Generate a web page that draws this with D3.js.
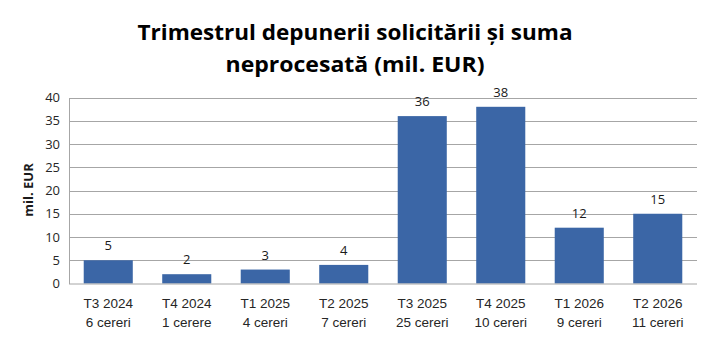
<!DOCTYPE html>
<html><head><meta charset="utf-8">
<script src="https://cdn.jsdelivr.net/npm/d3@7"></script>
<style>
html,body{margin:0;padding:0;background:#fff;}
svg{display:block;font-family:"Open Sans",sans-serif;}
</style></head>
<body><svg id="c" width="710" height="338"></svg>
<script>
const quarters = ["T3 2024","T4 2024","T1 2025","T2 2025","T3 2025","T4 2025","T1 2026","T2 2026"];
const requests = ["6 cereri","1 cerere","4 cereri","7 cereri","25 cereri","10 cereri","9 cereri","11 cereri"];
const values = [5,2,3,4,36,38,12,15];
const yTicks = [0,5,10,15,20,25,30,35,40];
const titleLines = ["Trimestrul depunerii solicitării și suma","neprocesată (mil. EUR)"];
const yTitle = "mil. EUR";

const svg = d3.select("#c");
const m = {left:69, right:697, top:97.5, bottom:283.5};
const x = d3.scaleBand().domain(quarters).range([m.left,m.right]).paddingInner(0.375).paddingOuter(0.1875);
const y = d3.scaleLinear().domain([0,40]).range([m.bottom,m.top]);

// gridlines
svg.append("g").selectAll("line").data(yTicks.filter(d=>d>0)).join("line")
  .attr("x1",m.left).attr("x2",m.right)
  .attr("y1",d=>Math.round(y(d))+0.5).attr("y2",d=>Math.round(y(d))+0.5)
  .attr("stroke","#a6a6a6").attr("stroke-width",1);

// y axis
const ya = svg.append("g").attr("transform",`translate(${m.left},0)`)
  .call(d3.axisLeft(y).tickValues(yTicks).tickSize(0).tickPadding(9));
ya.select(".domain").attr("stroke","#a6a6a6");
ya.selectAll("text").attr("font-size","13px").attr("fill","#262626").attr("font-family","Open Sans");

// bars
svg.append("g").selectAll("rect").data(values).join("rect")
  .attr("x",(d,i)=>x(quarters[i])).attr("width",x.bandwidth())
  .attr("y",d=>y(d)).attr("height",d=>y(0)-y(d))
  .attr("fill","#3b66a6");

// value labels
svg.append("g").selectAll("text").data(values).join("text")
  .attr("x",(d,i)=>x(quarters[i])+x.bandwidth()/2).attr("y",d=>y(d)-10)
  .attr("text-anchor","middle").attr("font-size","13px").attr("fill","#1a1a1a")
  .text(d=>d);

// x axis
const xa = svg.append("g").attr("transform",`translate(0,${m.bottom})`)
  .call(d3.axisBottom(x).tickSize(0).tickFormat(()=>""));
xa.select(".domain").attr("stroke","#a6a6a6").attr("d",`M${m.left},0.5H${m.right}`);
xa.selectAll(".tick text").remove();
xa.selectAll(".tick").each(function(d,i){
  const g = d3.select(this);
  const t = g.append("text").attr("text-anchor","middle").attr("font-size","13.5px").attr("fill","#262626");
  t.append("tspan").attr("x",0).attr("y",24.5).text(quarters[i]);
  t.append("tspan").attr("x",0).attr("y",43.5).text(requests[i]);
});

// y title
svg.append("text").attr("transform",`translate(33,190) rotate(-90)`)
  .attr("text-anchor","middle").attr("font-size","13px").attr("font-weight","bold").attr("fill","#1a1a1a")
  .text(yTitle);

// title
const tw = [435, 259];
const ty = [40, 72];
titleLines.forEach((s,i)=>{
  svg.append("text").attr("x",355).attr("y",ty[i]).attr("text-anchor","middle")
    .attr("font-size","22px").attr("font-weight","bold").attr("fill","#000")
    .attr("textLength",tw[i]).attr("lengthAdjust","spacingAndGlyphs")
    .text(s);
});
</script></body></html>
